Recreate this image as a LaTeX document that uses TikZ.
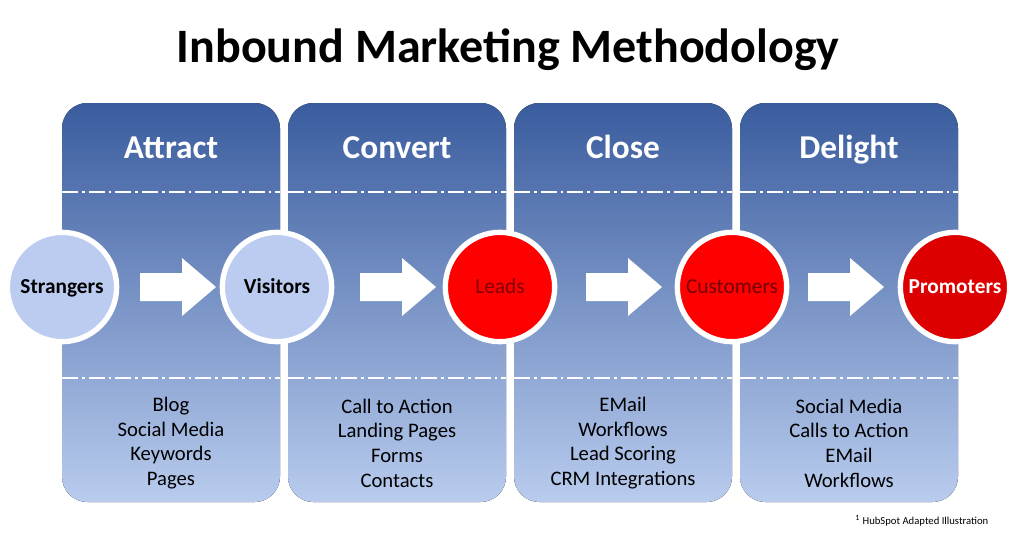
\documentclass[tikz,border=0pt]{standalone}
\usepackage{fontspec}
\setmainfont{Carlito}
\begin{document}
\begin{tikzpicture}[x=0.75pt,y=-0.75pt,
  panel/.style={rounded corners=19pt, top color=paneltop, bottom color=panelbot, draw=none},
  head/.style={font=\fontsize{25}{30}\selectfont\bfseries, text=white, text height=18pt, text depth=5pt},
  items/.style={font=\fontsize{15.5}{18.5}\selectfont, align=center, text=black},
  circ/.style={circle, draw=white, line width=4pt, minimum size=82pt, inner sep=0pt, text height=12pt, text depth=3pt, font=\fontsize{16}{20}\selectfont\bfseries},
  blue circ/.style={circ, fill=circblue},
  red circ/.style={circ, fill=red},
  sep/.style={white, line width=1.6pt, dash pattern=on 12pt off 3pt on 2pt off 3pt}]
\definecolor{paneltop}{HTML}{3A5C9E}
\definecolor{panelbot}{HTML}{B9CCEE}
\definecolor{circblue}{HTML}{BCCCF0}
\useasboundingbox (0,0) rectangle (1020,540);
\node[font=\fontsize{36}{40}\selectfont\bfseries] (title) at (508,50) {Inbound Marketing Methodology};
\foreach \x/\n/\h/\a/\b/\c/\d in {62/p1/Attract/Blog/Social Media/Keywords/Pages,
  288/p2/Convert/Call to Action/Landing Pages/Forms/Contacts,
  514/p3/Close/EMail/Workflows/Lead Scoring/CRM Integrations,
  740/p4/Delight/Social Media/Calls to Action/EMail/Workflows}{
  \fill[panel] (\x,103) rectangle ++(218,399);
  \draw[sep] (\x,192) -- ++(218,0);
  \draw[sep] (\x,378) -- ++(218,0);
  \node[head] (\n h) at (\x+109,150) {\h};
  \node[items] (\n i) at (\x+109,443) {\a\\\b\\\c\\\d};
}
\node[blue circ] (s) at (62,287) {Strangers};
\node[blue circ] (v) at (277,287) {Visitors};
\node[red circ, fill=red!100!black, text=red!50!black, font=\fontsize{16}{20}\selectfont] (l) at (500,287) {Leads};
\node[red circ, text=red!45!black, font=\fontsize{16}{20}\selectfont] (c) at (732,287) {Customers};
\node[red circ, fill={rgb,255:red,220;green,0;blue,0}, text=white] (p) at (955,287) {Promoters};
\foreach \xa in {140,360,586,808}{
  \fill[white] (\xa,273) -- (\xa+42,273) -- (\xa+42,258) -- (\xa+76,287) -- (\xa+42,316) -- (\xa+42,301) -- (\xa,301) -- cycle;
}
\node[font=\fontsize{8}{9}\selectfont, anchor=east] (note) at (993,521) {\textsuperscript{1} HubSpot Adapted Illustration};
\end{tikzpicture}
\end{document}
